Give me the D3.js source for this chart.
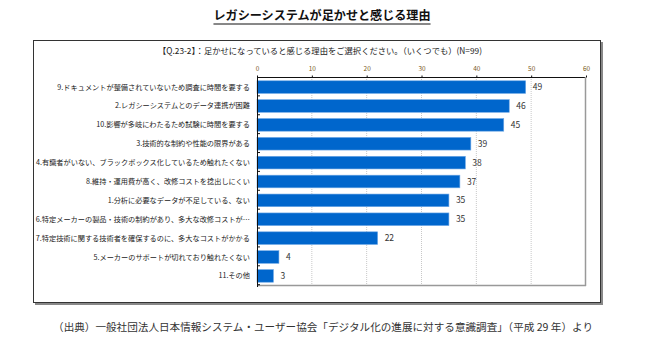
<!DOCTYPE html>
<html><head><meta charset="utf-8">
<script src="https://cdn.jsdelivr.net/npm/d3@7"></script>
<style>
body{margin:0;background:#fff;font-family:"Noto Sans CJK JP","Noto Sans",sans-serif;}
</style></head>
<body>
<svg id="c" width="655" height="356"></svg>
<script>
const categories = [
  "9.ドキュメントが整備されていないため調査に時間を要する",
  "2.レガシーシステムとのデータ連携が困難",
  "10.影響が多岐にわたるため試験に時間を要する",
  "3.技術的な制約や性能の限界がある",
  "4.有識者がいない、ブラックボックス化しているため触れたくない",
  "8.維持・運用費が高く、改修コストを捻出しにくい",
  "1.分析に必要なデータが不足している、ない",
  "6.特定メーカーの製品・技術の制約があり、多大な改修コストが…",
  "7.特定技術に関する技術者を確保するのに、多大なコストがかかる",
  "5.メーカーのサポートが切れており触れたくない",
  "11.その他"
];
const values = [49, 46, 45, 39, 38, 37, 35, 35, 22, 4, 3];
const xTicks = [0, 10, 20, 30, 40, 50, 60];
const title = "レガシーシステムが足かせと感じる理由";
const subtitle = "【Q.23-2】：足かせになっていると感じる理由をご選択ください。（いくつでも）(N=99)";
const source = "（出典）一般社団法人日本情報システム・ユーザー協会「デジタル化の進展に対する意識調査」（平成 29 年）より";

const svg = d3.select("#c");
const font = '"Noto Sans CJK JP","Noto Sans",sans-serif';

// title
const t = svg.append("text").attr("x", 322).attr("y", 20).attr("text-anchor", "middle")
  .attr("font-family", font).attr("font-size", 12.1).attr("font-weight", "bold").attr("fill", "#111").text(title);
const tb = t.node().getBBox();
svg.append("line").attr("x1", tb.x).attr("x2", tb.x + tb.width).attr("y1", 24).attr("y2", 24)
  .attr("stroke", "#111").attr("stroke-width", 1);

// outer frame with shadow
svg.append("rect").attr("x", 35).attr("y", 42).attr("width", 568).attr("height", 263).attr("fill", "#888");
svg.append("rect").attr("x", 33.5).attr("y", 40.5).attr("width", 567).attr("height", 262)
  .attr("fill", "#fff").attr("stroke", "#333").attr("stroke-width", 1);

svg.append("text").attr("x", 320).attr("y", 54).attr("text-anchor", "middle")
  .attr("font-family", font).attr("font-size", 8.3).attr("fill", "#222").text(subtitle);

const x = d3.scaleLinear().domain([0, 60]).range([257, 586]);
const y = d3.scaleBand().domain(categories).range([77, 286]).paddingInner(0.33).paddingOuter(0.2);

// gridlines
svg.append("g").selectAll("line").data(xTicks.filter(d => d > 0 && d < 60)).join("line")
  .attr("x1", d => x(d)).attr("x2", d => x(d)).attr("y1", 77).attr("y2", 286)
  .attr("stroke", "#c8c8c8").attr("stroke-width", 1).attr("stroke-dasharray", "1,1");

// plot border
svg.append("line").attr("x1", 257).attr("x2", 586).attr("y1", 77.5).attr("y2", 77.5).attr("stroke", "#111");
svg.append("line").attr("x1", 585.5).attr("x2", 585.5).attr("y1", 77).attr("y2", 286).attr("stroke", "#999").attr("stroke-width", 1.5);
svg.append("line").attr("x1", 257).attr("x2", 586).attr("y1", 285.5).attr("y2", 285.5).attr("stroke", "#999").attr("stroke-width", 1.5);

// top axis
const ax = svg.append("g").attr("transform", "translate(0,77.5)")
  .call(d3.axisTop(x).tickValues(xTicks).tickSize(2).tickPadding(5));
ax.select(".domain").remove();
ax.selectAll("line").attr("stroke", "#111");
ax.selectAll("text").attr("font-family", font).attr("font-size", 6.5).attr("fill", "#7a5a1a");

// bars
svg.append("g").selectAll("rect").data(values).join("rect")
  .attr("x", x(0)).attr("y", (d, i) => y(categories[i]))
  .attr("width", d => x(d) - x(0)).attr("height", y.bandwidth())
  .attr("fill", "#0066cc").attr("stroke", "#6fa8e6").attr("stroke-width", 0.6);

// left axis with category ticks
svg.append("line").attr("x1", 257.5).attr("x2", 257.5).attr("y1", 77).attr("y2", 287).attr("stroke", "#111");
svg.append("g").selectAll("line").data(d3.range(1, categories.length + 1)).join("line")
  .attr("x1", 257).attr("x2", 260).attr("y1", i => 77 + i * y.step()).attr("y2", i => 77 + i * y.step())
  .attr("stroke", "#111");

// category labels
svg.append("g").selectAll("text").data(categories).join("text")
  .attr("x", 250).attr("y", d => y(d) + y.bandwidth() / 2 + 2.5).attr("text-anchor", "end")
  .attr("font-family", font).attr("font-size", 7.2).attr("fill", "#222").text(d => d);

// value labels
svg.append("g").selectAll("text").data(values).join("text")
  .attr("x", d => x(d) + 7).attr("y", (d, i) => y(categories[i]) + y.bandwidth() / 2 + 3)
  .attr("font-family", font).attr("font-size", 8.5).attr("fill", "#333").text(d => d);

// source
svg.append("text").attr("x", 593).attr("y", 331).attr("text-anchor", "end")
  .attr("font-family", font).attr("font-size", 10.6).attr("fill", "#333").text(source);
</script>
</body></html>
